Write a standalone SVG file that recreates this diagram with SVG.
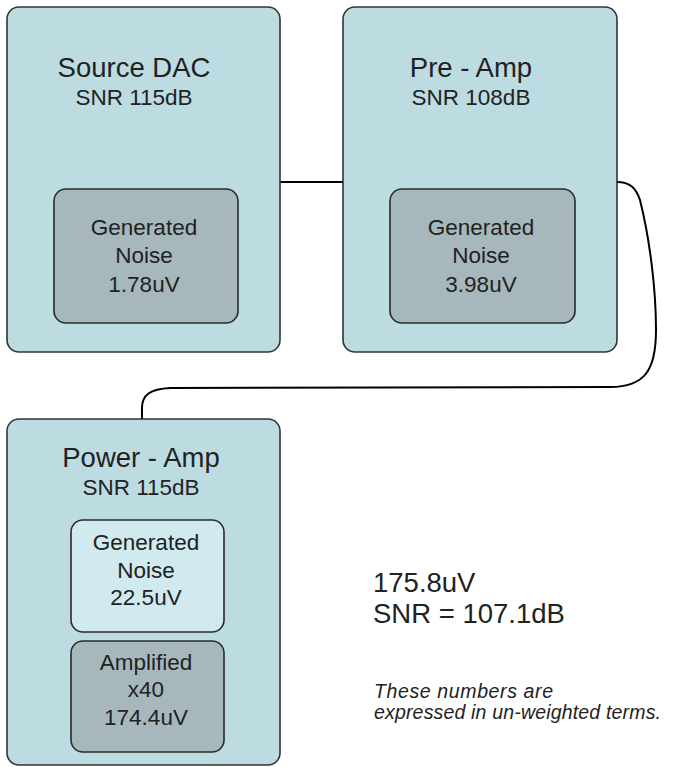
<svg xmlns="http://www.w3.org/2000/svg" width="673" height="767" viewBox="0 0 673 767">
<style>
.outer{fill:#bcdce2;stroke:#333;stroke-width:1.6}
.dark{fill:#a6b8bc;stroke:#2a2a2a;stroke-width:1.6}
.light{fill:#d0eaef;stroke:#2a2a2a;stroke-width:1.6}
text{font-family:"Liberation Sans",Arial,sans-serif;fill:#222;text-anchor:middle}
.t1{font-size:27.5px}
.t2{font-size:22.5px}
.t3{font-size:22.5px}
.note{font-size:19.5px;font-style:italic;text-anchor:start}
.big{font-size:27.5px;text-anchor:start}
.wire{fill:none;stroke:#000;stroke-width:2}
</style>
<rect width="673" height="767" fill="#fff"/>
<g id="connectors">
<path class="wire" d="M280,182 L343,182"/>
<path class="wire" d="M617,182 C630,182 636,188 640,200 C650,240 656,290 656,330 C656,370 645,387 610,387 L170,388 C150,389 142,395 142,408 L142,419"/>
</g>
<g id="source-dac">
<rect class="outer" x="7" y="7" width="273" height="345" rx="12"/>
<text class="t1" x="134" y="77">Source DAC</text>
<text class="t2" x="134" y="105">SNR 115dB</text>
<rect class="dark" x="54" y="189" width="184" height="134" rx="12"/>
<text class="t3" x="144" y="235">Generated</text>
<text class="t3" x="144" y="263">Noise</text>
<text class="t3" x="144" y="292">1.78uV</text>
</g>
<g id="pre-amp">
<rect class="outer" x="343" y="7" width="274" height="345" rx="12"/>
<text class="t1" x="471" y="77">Pre - Amp</text>
<text class="t2" x="471" y="105">SNR 108dB</text>
<rect class="dark" x="390" y="189" width="185" height="134" rx="12"/>
<text class="t3" x="481" y="235">Generated</text>
<text class="t3" x="481" y="263">Noise</text>
<text class="t3" x="481" y="292">3.98uV</text>
</g>
<g id="power-amp">
<rect class="outer" x="7" y="419" width="273" height="346" rx="12"/>
<text class="t1" x="141" y="467">Power - Amp</text>
<text class="t2" x="141" y="495">SNR 115dB</text>
<rect class="light" x="71" y="520" width="153" height="112" rx="12"/>
<text class="t3" x="146" y="550">Generated</text>
<text class="t3" x="146" y="578">Noise</text>
<text class="t3" x="146" y="605">22.5uV</text>
<rect class="dark" x="71" y="641" width="153" height="111" rx="12"/>
<text class="t3" x="146" y="670">Amplified</text>
<text class="t3" x="146" y="697">x40</text>
<text class="t3" x="146" y="725">174.4uV</text>
</g>
<g id="result">
<text class="big" x="373" y="592">175.8uV</text>
<text class="big" x="373" y="623">SNR = 107.1dB</text>
<text class="note" x="374" y="698" textLength="179" lengthAdjust="spacing">These numbers are</text>
<text class="note" x="374" y="719" textLength="287" lengthAdjust="spacing">expressed in un-weighted terms.</text>
</g>
</svg>
